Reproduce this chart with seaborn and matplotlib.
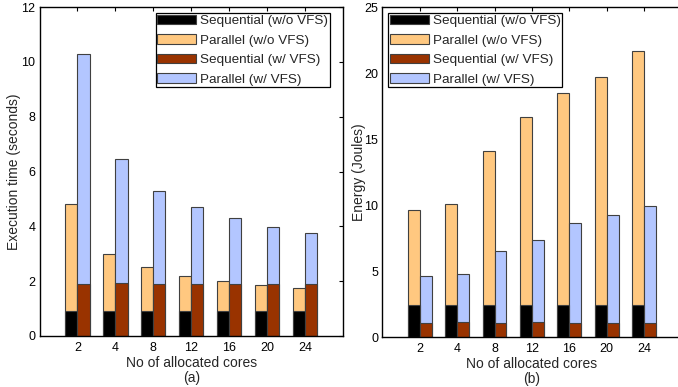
import numpy as np
import pandas as pd
import matplotlib
matplotlib.use('Agg')
import matplotlib.pyplot as plt
import seaborn as sns
from matplotlib.patches import Patch

# data
cores = ['2', '4', '8', '12', '16', '20', '24']

# (a) execution time, seconds
time_seq_novfs = [0.9, 0.9, 0.9, 0.9, 0.9, 0.9, 0.9]
time_par_novfs = [3.9, 2.1, 1.6, 1.3, 1.1, 0.95, 0.85]
time_seq_vfs = [1.9, 1.95, 1.9, 1.9, 1.88, 1.9, 1.88]
time_par_vfs = [8.4, 4.5, 3.4, 2.8, 2.44, 2.07, 1.89]

# (b) energy, joules
energy_seq_novfs = [2.42, 2.42, 2.42, 2.42, 2.42, 2.42, 2.42]
energy_par_novfs = [7.18, 7.68, 11.65, 14.25, 16.04, 17.3, 19.28]
energy_seq_vfs = [1.09, 1.14, 1.1, 1.14, 1.1, 1.1, 1.1]
energy_par_vfs = [3.51, 3.66, 5.4, 6.18, 7.54, 8.14, 8.8]

legend_labels = ['Sequential (w/o VFS)', 'Parallel (w/o VFS)',
                 'Sequential (w/ VFS)', 'Parallel (w/ VFS)']

c_seq_novfs = '#000000'
c_par_novfs = '#FFC880'
c_seq_vfs = '#993300'
c_par_vfs = '#B3C6FF'

sns.set_style('white')
plt.rcParams['font.family'] = ['Liberation Sans', 'DejaVu Sans']
plt.rcParams['font.size'] = 10


def make_frame(seq_a, par_a, seq_b, par_b):
    rows = []
    for i, c in enumerate(cores):
        rows.append({'cores': c, 'mode': 'w/o VFS', 'seq': seq_a[i], 'total': seq_a[i] + par_a[i]})
        rows.append({'cores': c, 'mode': 'w/ VFS', 'seq': seq_b[i], 'total': seq_b[i] + par_b[i]})
    return pd.DataFrame(rows)


def stacked_panel(ax, df, ylim, yticks, ylabel, xlabel, ylabelpad):
    common = dict(data=df, x='cores', hue='mode', order=cores,
                  hue_order=['w/o VFS', 'w/ VFS'], width=0.64, gap=0,
                  saturation=1, errorbar=None, legend=False, ax=ax,
                  edgecolor='0.25', linewidth=0.8)
    sns.barplot(y='total', palette=[c_par_novfs, c_par_vfs], **common)
    sns.barplot(y='seq', palette=[c_seq_novfs, c_seq_vfs], **common)
    ax.set_xlim(-1, 7)
    ax.set_ylim(*ylim)
    ax.set_yticks(yticks)
    ax.set_ylabel(ylabel, fontsize=10, labelpad=ylabelpad)
    ax.set_xlabel(xlabel, fontsize=10, labelpad=2, linespacing=1.05)
    ax.tick_params(direction='in', top=True, right=True, length=3,
                   width=0.8, colors='black', labelsize=9)
    ax.tick_params(axis='y', pad=3)
    ax.tick_params(axis='x', pad=4)
    for s in ax.spines.values():
        s.set_visible(True)
        s.set_color('black')
        s.set_linewidth(1.0)


fig = plt.figure(figsize=(6.78, 3.87), dpi=100)
ax1 = fig.add_axes([0.0583, 0.1318, 0.4476, 0.8500])
ax2 = fig.add_axes([0.5639, 0.1290, 0.4413, 0.8528])

df_time = make_frame(time_seq_novfs, time_par_novfs, time_seq_vfs, time_par_vfs)
df_energy = make_frame(energy_seq_novfs, energy_par_novfs, energy_seq_vfs, energy_par_vfs)

stacked_panel(ax1, df_time, (0, 12), np.arange(0, 13, 2),
              'Execution time (seconds)', 'No of allocated cores\n(a)', 0)
stacked_panel(ax2, df_energy, (0, 25), np.arange(0, 26, 5),
              'Energy (Joules)', 'No of allocated cores\n(b)', -1)

handles = [Patch(facecolor=c, edgecolor='0.25', linewidth=0.8)
           for c in [c_seq_novfs, c_par_novfs, c_seq_vfs, c_par_vfs]]
leg_kw = dict(fancybox=False, framealpha=1, edgecolor='black',
              handlelength=2.9, handleheight=0.72, handletextpad=0.3,
              labelspacing=0.52, borderpad=0.12, borderaxespad=0,
              fontsize=9.7)
l1 = ax1.legend(handles, legend_labels, loc='upper right',
                bbox_to_anchor=(0.957, 0.982), **leg_kw)
l2 = ax2.legend(handles, legend_labels, loc='upper left',
                bbox_to_anchor=(0.019, 0.982), **leg_kw)
for l in (l1, l2):
    l.get_frame().set_linewidth(0.9)

fig.savefig('out.png', dpi=100)
